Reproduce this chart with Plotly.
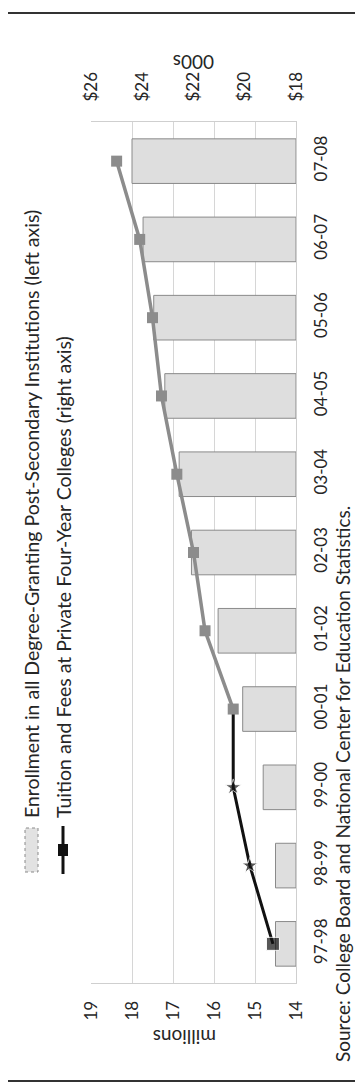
import plotly.graph_objects as go

# ---- data ----
years = ["97-98", "98-99", "99-00", "00-01", "01-02", "02-03",
         "03-04", "04-05", "05-06", "06-07", "07-08"]
enrollment_millions = [14.5, 14.5, 14.8, 15.3, 15.9, 16.55, 16.85, 17.2, 17.47, 17.73, 18.0]
tuition_thousands = [18.9, 19.8, 20.45, 20.45, 21.55, 22.0, 22.65, 23.25, 23.6, 24.1, 25.0]
left_ticks = [14, 15, 16, 17, 18, 19]
right_ticks = [18, 20, 22, 24, 26]
right_ticktext = ["$18", "$20", "$22", "$24", "$26"]
legend_enroll = "Enrollment in all Degree-Granting Post-Secondary Institutions (left axis)"
legend_tuition = "Tuition and Fees at Private Four-Year Colleges (right axis)"
source_text = "Source: College Board and National Center for Education Statistics."

# ---- layout geometry (pixels) ----
W, H = 363, 1083
L, R, T, B = 83, 75, 114, 108
PW, PH = W - L - R, H - T - B


def px(x):
    return (x - L) / PW


def py(y):
    return (H - B - y) / PH


FONT = "Lato"
TXT = "#262626"
base = left_ticks[0]

fig = go.Figure()

fig.add_trace(go.Bar(
    y=years, x=[v - base for v in enrollment_millions], base=base,
    orientation="h", width=0.57,
    marker=dict(color="#dedede", line=dict(color="#8a8a8a", width=1)),
    xaxis="x", yaxis="y", showlegend=False,
))

split = 3
fig.add_trace(go.Scatter(
    y=years[:split + 1], x=tuition_thousands[:split + 1],
    mode="lines+markers", xaxis="x2", yaxis="y",
    line=dict(color="#111111", width=3),
    marker=dict(symbol=["square", "star", "star", "square"],
                size=[13, 12, 12, 0], color="#111111"),
    showlegend=False,
))
fig.add_trace(go.Scatter(
    y=years[split:], x=tuition_thousands[split:],
    mode="lines+markers", xaxis="x2", yaxis="y",
    line=dict(color="#8c8c8c", width=3.5),
    marker=dict(symbol="square", size=11, color="#8c8c8c"),
    showlegend=False,
))

annotations = [
    dict(text="000s", x=0.5, y=py(54), textangle=180,
         font=dict(size=19, color=TXT, family=FONT)),
    dict(text="millions", x=px(177), y=py(1030), textangle=180,
         font=dict(size=19, color=TXT, family=FONT)),
    dict(text=source_text, x=px(334), y=py(776), textangle=-90,
         font=dict(size=19, color=TXT, family=FONT)),
    dict(text=legend_enroll, x=px(23), y=py(812), textangle=-90, yanchor="bottom",
         font=dict(size=19.5, color=TXT, family=FONT)),
    dict(text=legend_tuition, x=px(55), y=py(812), textangle=-90, yanchor="bottom",
         font=dict(size=19.5, color=TXT, family=FONT)),
]
for a in annotations:
    a.update(xref="paper", yref="paper", showarrow=False)
    a.setdefault("xanchor", "center")
    a.setdefault("yanchor", "middle")

shapes = [
    # legend swatch
    dict(type="rect", x0=px(17), x1=px(30), y0=py(864), y1=py(820),
         fillcolor="#e2e2e2", line=dict(color="#8a8a8a", width=1, dash="dot")),
    # legend line symbol
    dict(type="line", x0=px(55), x1=px(55), y0=py(866), y1=py(818),
         line=dict(color="#111111", width=3)),
    dict(type="rect", x0=px(50), x1=px(60), y0=py(848), y1=py(836),
         fillcolor="#111111", line=dict(width=0)),
    # page border lines
    dict(type="line", x0=px(0), x1=px(W), y0=py(5), y1=py(5),
         line=dict(color="#333333", width=2)),
    dict(type="line", x0=px(0), x1=px(W), y0=py(1073), y1=py(1073),
         line=dict(color="#333333", width=2)),
]
for s in shapes:
    s.update(xref="paper", yref="paper")

fig.update_layout(
    width=W, height=H,
    margin=dict(l=L, r=R, t=T, b=B),
    paper_bgcolor="white", plot_bgcolor="white",
    font=dict(family=FONT, color=TXT, size=17),
    showlegend=False,
    xaxis=dict(
        range=[19, 14], tickvals=left_ticks, tickangle=-90,
        showgrid=True, gridcolor="#d6d6d6", gridwidth=1,
        showline=True, linecolor="#cfcfcf", linewidth=1,
        ticks="", ticklabelstandoff=10, zeroline=False,
        tickfont=dict(size=17, color=TXT, family=FONT),
    ),
    xaxis2=dict(
        overlaying="x", side="top", range=[26, 18],
        tickvals=right_ticks, ticktext=right_ticktext, tickangle=-90,
        showgrid=False, showline=True, linecolor="#cfcfcf", linewidth=1,
        ticks="", ticklabelstandoff=16, zeroline=False,
        tickfont=dict(size=17, color=TXT, family=FONT),
    ),
    yaxis=dict(
        type="category", side="right", tickangle=-90,
        showgrid=False, showline=True, linecolor="#cfcfcf", linewidth=1,
        ticks="", ticklabelstandoff=10,
        tickfont=dict(size=17, color=TXT, family=FONT),
        range=[-0.5, 10.5],
    ),
    annotations=annotations,
    shapes=shapes,
)

fig.write_html("out.html")
